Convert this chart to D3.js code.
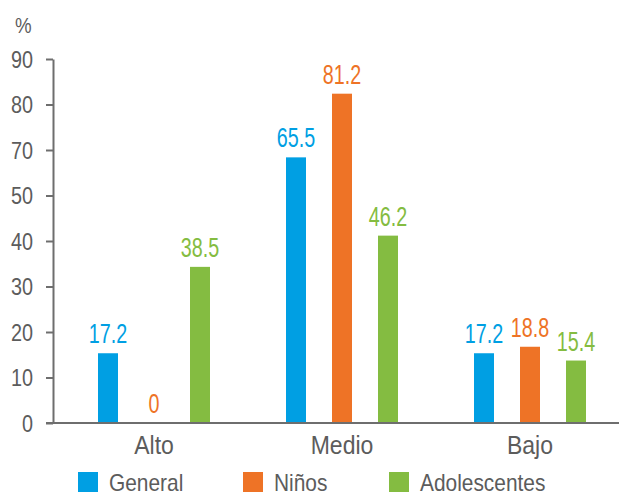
<!DOCTYPE html>
<html>
<head>
<meta charset="utf-8">
<script src="https://cdn.jsdelivr.net/npm/d3@7"></script>
<style>
  html, body { margin: 0; padding: 0; background: #fff; }
  svg { display: block; }
  text { font-family: "Liberation Sans", Arial, sans-serif; }
</style>
</head>
<body>
<svg id="chart" width="619" height="492"></svg>
<script>
const categories = ["Alto", "Medio", "Bajo"];
const seriesNames = ["General", "Niños", "Adolescentes"];
const general = [17.2, 65.5, 17.2];
const ninos = [0, 81.2, 18.8];
const adolescentes = [38.5, 46.2, 15.4];
const tickLabels = ["0", "10", "20", "30", "40", "50", "70", "80", "90"];
const colors = ["#009fe3", "#ee7326", "#84bc41"];

const seriesValues = [general, ninos, adolescentes];
const svg = d3.select("#chart");
const textColor = "#5c5c5c";
const axisColor = "#6e6e6e";

// condense text horizontally (reference uses a condensed face)
function condense(sel, f) {
  sel.each(function () {
    const w = this.getComputedTextLength();
    d3.select(this).attr("textLength", w * f).attr("lengthAdjust", "spacingAndGlyphs");
  });
}

const y = d3.scaleLinear().domain([0, 90]).range([423, 58]);
const yTicks = d3.scalePoint().domain(tickLabels).range([423, 59]).padding(0);
const x = d3.scaleBand().domain(categories).range([60, 624]).padding(0);
const xs = d3.scalePoint().domain(seriesNames).range([-46, 46]);
const barW = 20;

// y axis
const yAxis = svg.append("g")
  .attr("transform", "translate(53,0)")
  .call(d3.axisLeft(yTicks).tickSize(7).tickPadding(13).tickSizeOuter(0));
yAxis.select(".domain").attr("stroke", axisColor).attr("stroke-width", 2);
yAxis.selectAll(".tick line").attr("stroke", axisColor).attr("stroke-width", 2);
yAxis.selectAll(".tick text")
  .attr("fill", textColor)
  .attr("font-family", null)
  .attr("font-size", null)
  .style("font-size", "23px")
  .attr("dy", "0.36em")
  .call(condense, 0.86);

// % label
svg.append("text")
  .attr("x", 15).attr("y", 33)
  .attr("fill", textColor)
  .style("font-size", "22px")
  .text("%")
  .call(condense, 0.85);

// bars
const rows = [];
categories.forEach((c, i) => {
  seriesNames.forEach((s, j) => {
    rows.push({ cat: c, ser: s, v: seriesValues[j][i], color: colors[j] });
  });
});

svg.append("g").selectAll("rect")
  .data(rows)
  .join("rect")
  .attr("x", d => x(d.cat) + x.bandwidth() / 2 + xs(d.ser) - barW / 2)
  .attr("width", barW)
  .attr("y", d => y(d.v))
  .attr("height", d => y(0) - y(d.v))
  .attr("fill", d => d.color);

svg.append("g").selectAll("text")
  .data(rows)
  .join("text")
  .attr("x", d => x(d.cat) + x.bandwidth() / 2 + xs(d.ser))
  .attr("y", d => y(d.v) - 10)
  .attr("text-anchor", "middle")
  .attr("fill", d => d.color)
  .style("font-size", "27px")
  .text(d => String(d.v))
  .call(condense, 0.73);

// x axis
const xAxis = svg.append("g")
  .attr("transform", "translate(0,423)")
  .call(d3.axisBottom(x).tickSize(0).tickPadding(13));
xAxis.select(".domain").remove();
xAxis.selectAll(".tick text")
  .attr("fill", textColor)
  .style("font-size", "25px")
  .attr("dy", "0.71em")
  .call(condense, 0.92);
svg.append("line")
  .attr("x1", 46).attr("x2", 619)
  .attr("y1", 423).attr("y2", 423)
  .attr("stroke", axisColor).attr("stroke-width", 2);

// legend
const legendX = [78, 243, 389];
const lg = svg.append("g").selectAll("g")
  .data(seriesNames)
  .join("g")
  .attr("transform", (d, i) => `translate(${legendX[i]},472)`);
lg.append("rect")
  .attr("width", 20).attr("height", 20)
  .attr("fill", (d, i) => colors[i]);
lg.append("text")
  .attr("x", 31).attr("y", 19)
  .attr("fill", textColor)
  .style("font-size", "24px")
  .text(d => d)
  .call(condense, 0.87);
</script>
</body>
</html>
